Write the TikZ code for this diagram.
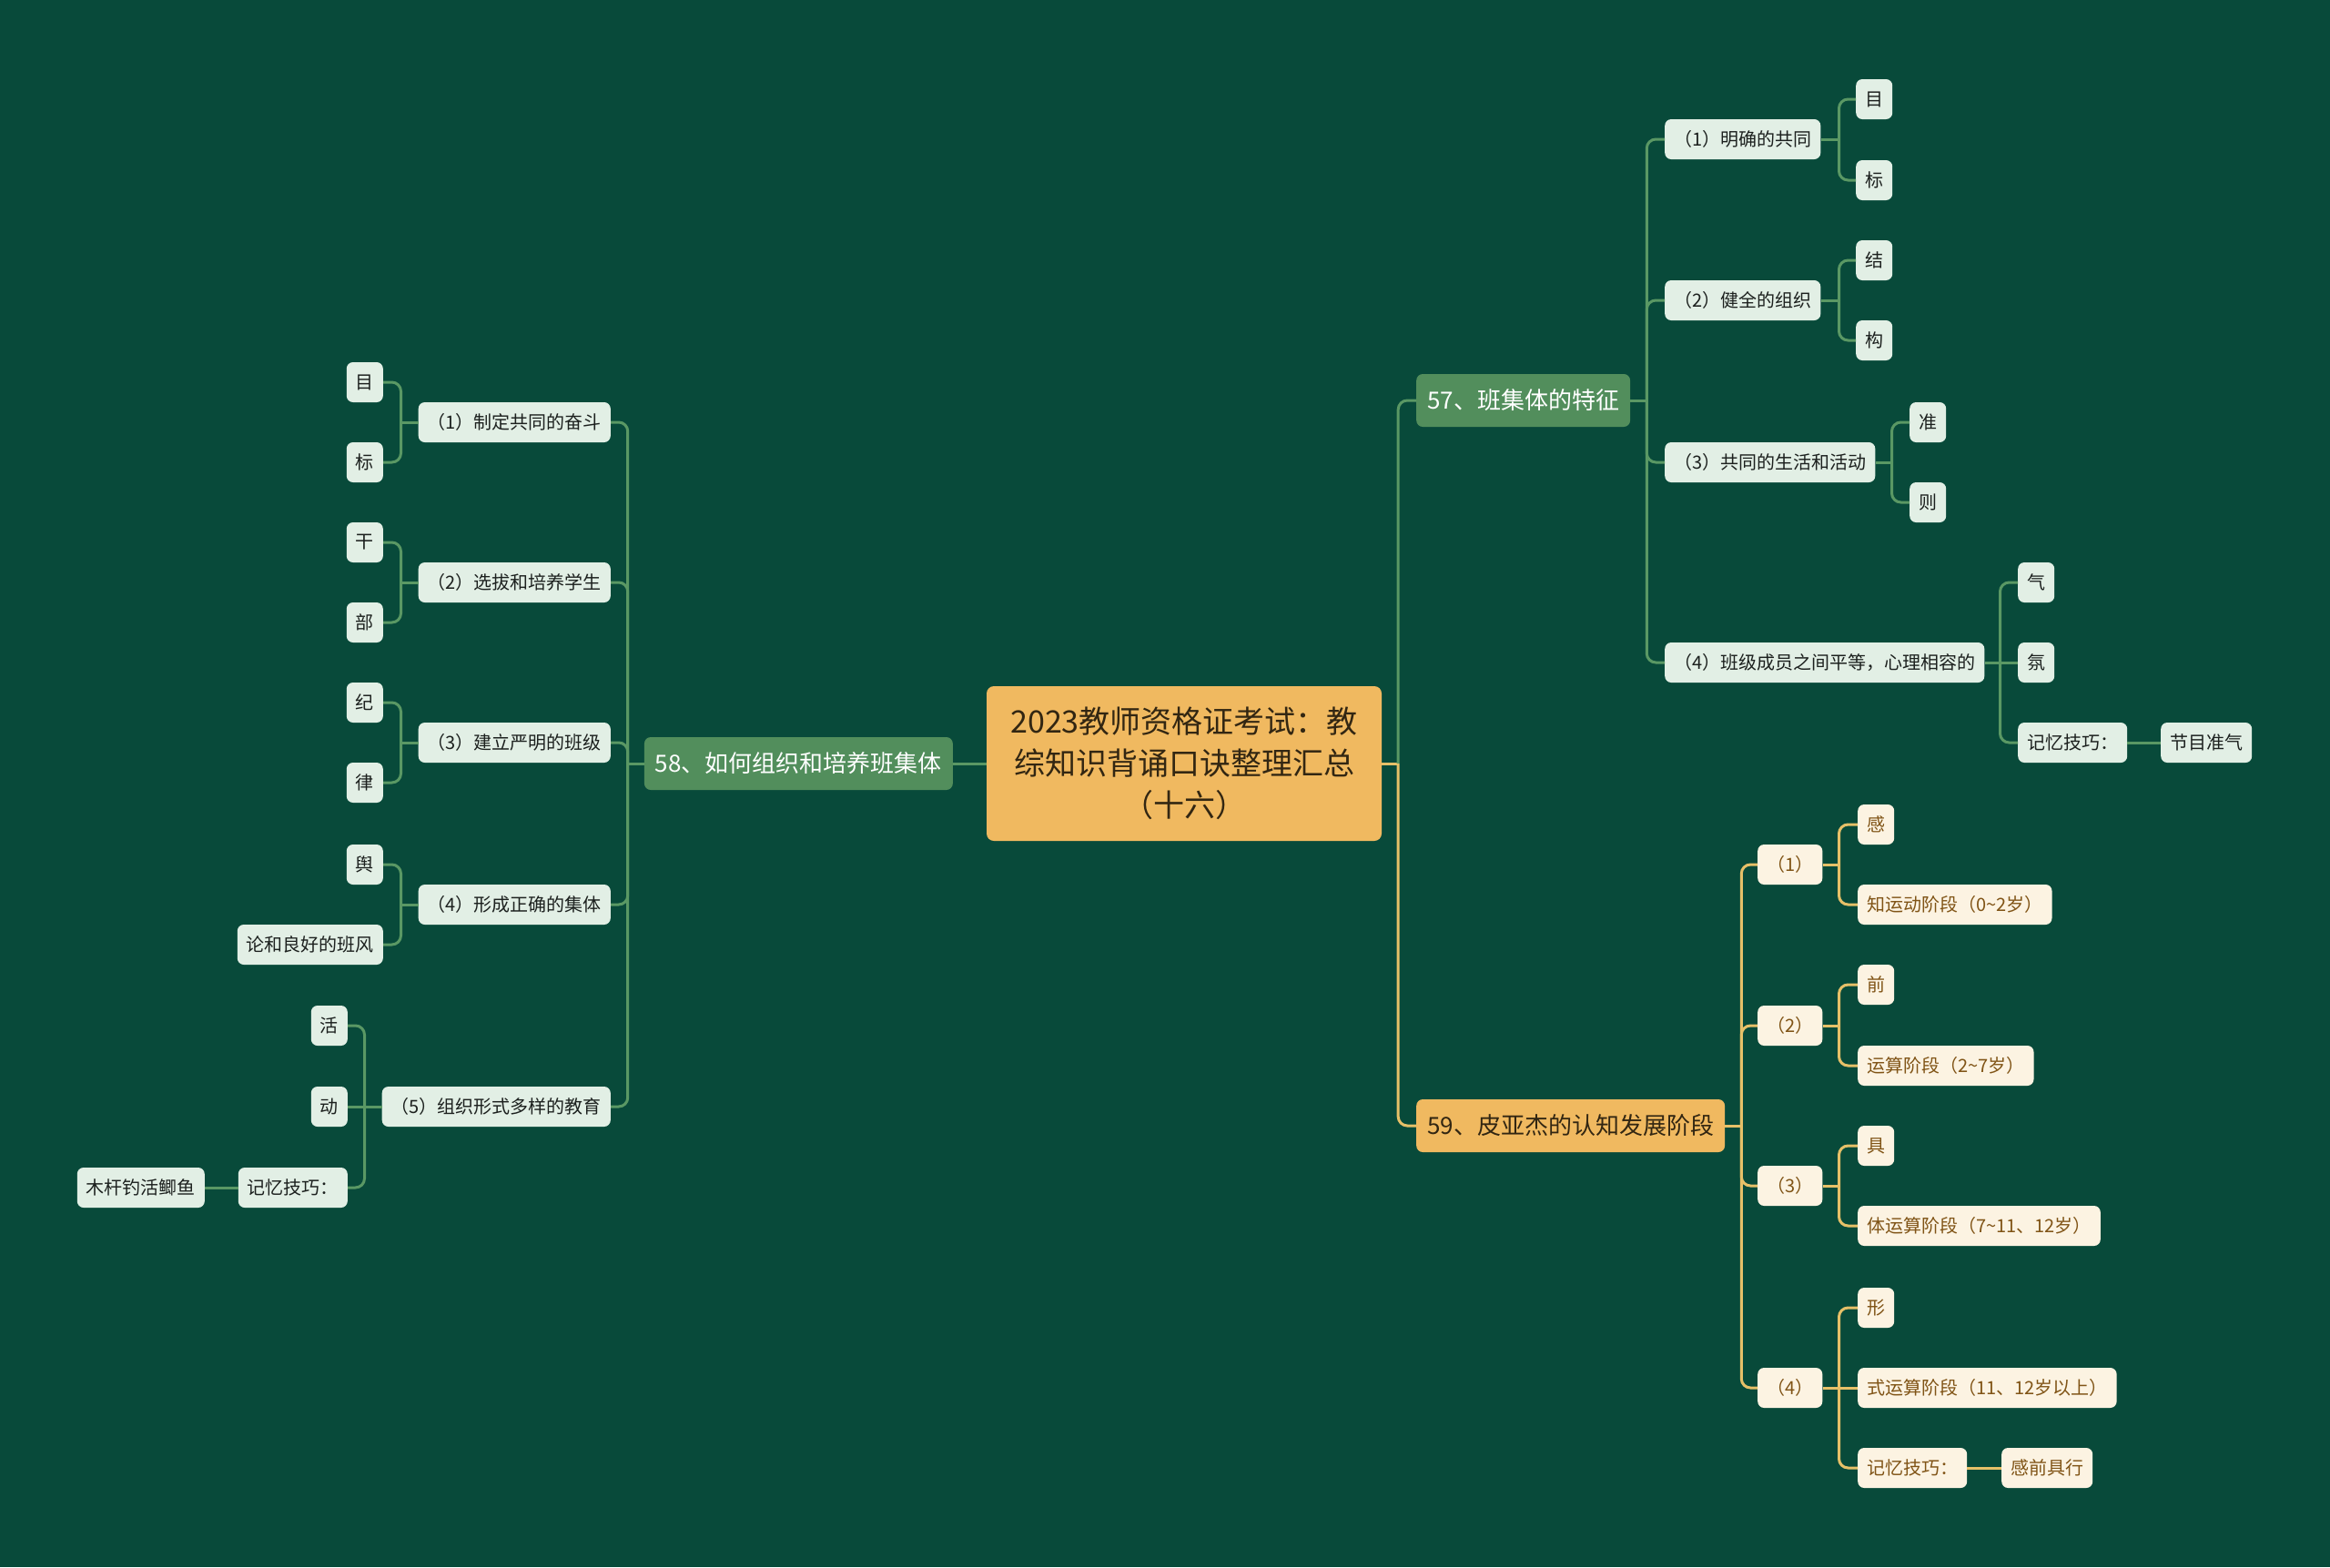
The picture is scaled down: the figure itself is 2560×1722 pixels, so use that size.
\documentclass[tikz,border=0pt]{standalone}
\usepackage{fontspec}
\setmainfont{Noto Sans CJK SC}
\definecolor{bgc}{RGB}{8,74,58}
\definecolor{rootc}{RGB}{240,185,96}
\definecolor{roottxt}{RGB}{50,38,18}
\definecolor{lgreen}{RGB}{82,142,92}
\definecolor{mint}{RGB}{226,239,229}
\definecolor{gline}{RGB}{90,152,100}
\definecolor{yline}{RGB}{230,192,104}
\definecolor{cream}{RGB}{252,243,226}
\definecolor{brown}{RGB}{128,84,22}
\definecolor{darktxt}{RGB}{28,32,30}
\tikzset{
  rootbox/.style={fill=rootc, text=roottxt, rounded corners=8, align=center,
    minimum width=434, minimum height=170, inner sep=0,
    font=\fontsize{34}{46}\selectfont},
  lonegreen/.style={fill=lgreen, text=white, rounded corners=7, minimum height=58,
    inner xsep=12, inner ysep=0, font=\fontsize{26}{30}\selectfont},
  loneyellow/.style={fill=rootc, text=roottxt, rounded corners=7, minimum height=58,
    inner xsep=12, inner ysep=0, font=\fontsize{26}{30}\selectfont},
  gbox/.style={fill=mint, text=darktxt, rounded corners=7, minimum height=44,
    inner xsep=10, inner ysep=0, font=\fontsize{20}{24}\selectfont},
  ybox/.style={fill=cream, text=brown, rounded corners=7, minimum height=44,
    inner xsep=10, inner ysep=0, font=\fontsize{20}{24}\selectfont},
  gl/.style={draw=gline, line width=3},
  yl/.style={draw=yline, line width=3},
  rc/.style={rounded corners=10},
}
\begin{document}
\begin{tikzpicture}[x=1pt,y=-1pt]
\fill[bgc] (0,0) rectangle (2560,1722);
\useasboundingbox (0,0) rectangle (2560,1722);

% root
\node[rootbox] (root) at (1301,839) {2023教师资格证考试：教\\综知识背诵口诀整理汇总\\（十六）};

% ---------- right: 57 ----------
\node[lonegreen, anchor=west] (n57) at (1556,440) {57、班集体的特征};
\node[gbox, anchor=west] (a1) at (1829,153) {（1）明确的共同};
\node[gbox, anchor=west] (a2) at (1829,330) {（2）健全的组织};
\node[gbox, anchor=west] (a3) at (1829,508) {（3）共同的生活和活动};
\node[gbox, anchor=west] (a4) at (1829,728) {（4）班级成员之间平等，心理相容的};
\node[gbox, anchor=west] (a1a) at (2039,109) {目};
\node[gbox, anchor=west] (a1b) at (2039,198) {标};
\node[gbox, anchor=west] (a2a) at (2039,286) {结};
\node[gbox, anchor=west] (a2b) at (2039,374) {构};
\node[gbox, anchor=west] (a3a) at (2098,464) {准};
\node[gbox, anchor=west] (a3b) at (2098,552) {则};
\node[gbox, anchor=west] (a4a) at (2217,640) {气};
\node[gbox, anchor=west] (a4b) at (2217,728) {氛};
\node[gbox, anchor=west] (a4c) at (2217,816) {记忆技巧：};
\node[gbox, anchor=west] (a4d) at (2374,816) {节目准气};

% ---------- right: 59 ----------
\node[loneyellow, anchor=west] (n59) at (1556,1237) {59、皮亚杰的认知发展阶段};
\node[ybox, anchor=west] (c1) at (1931,950) {（1）};
\node[ybox, anchor=west] (c2) at (1931,1127) {（2）};
\node[ybox, anchor=west] (c3) at (1931,1303) {（3）};
\node[ybox, anchor=west] (c4) at (1931,1525) {（4）};
\node[ybox, anchor=west] (c1a) at (2041,906) {感};
\node[ybox, anchor=west] (c1b) at (2041,994) {知运动阶段（0\textasciitilde 2岁）};
\node[ybox, anchor=west] (c2a) at (2041,1082) {前};
\node[ybox, anchor=west] (c2b) at (2041,1171) {运算阶段（2\textasciitilde 7岁）};
\node[ybox, anchor=west] (c3a) at (2041,1259) {具};
\node[ybox, anchor=west] (c3b) at (2041,1347) {体运算阶段（7\textasciitilde 11、12岁）};
\node[ybox, anchor=west] (c4a) at (2041,1437) {形};
\node[ybox, anchor=west] (c4b) at (2041,1525) {式运算阶段（11、12岁以上）};
\node[ybox, anchor=west] (c4c) at (2041,1613) {记忆技巧：};
\node[ybox, anchor=west] (c4d) at (2199,1613) {感前具行};

% ---------- left: 58 ----------
\node[lonegreen, anchor=east] (n58) at (1047,839) {58、如何组织和培养班集体};
\node[gbox, anchor=east] (b1) at (671,464) {（1）制定共同的奋斗};
\node[gbox, anchor=east] (b2) at (671,640) {（2）选拔和培养学生};
\node[gbox, anchor=east] (b3) at (671,816) {（3）建立严明的班级};
\node[gbox, anchor=east] (b4) at (671,994) {（4）形成正确的集体};
\node[gbox, anchor=east] (b5) at (671,1216) {（5）组织形式多样的教育};
\node[gbox, anchor=east] (b1a) at (421,420) {目};
\node[gbox, anchor=east] (b1b) at (421,508) {标};
\node[gbox, anchor=east] (b2a) at (421,596) {干};
\node[gbox, anchor=east] (b2b) at (421,684) {部};
\node[gbox, anchor=east] (b3a) at (421,772) {纪};
\node[gbox, anchor=east] (b3b) at (421,860) {律};
\node[gbox, anchor=east] (b4a) at (421,950) {舆};
\node[gbox, anchor=east] (b4b) at (421,1038) {论和良好的班风};
\node[gbox, anchor=east] (b5a) at (382,1127) {活};
\node[gbox, anchor=east] (b5b) at (382,1216) {动};
\node[gbox, anchor=east] (b5c) at (382,1305) {记忆技巧：};
\node[gbox, anchor=east] (b5d) at (225,1305) {木杆钓活鲫鱼};

% ---------- connectors ----------
% root
\draw[gl] (root.west) -- (n58.east);
\draw[yl] (root.east) -- ([xshift=18]root.east);
\draw[gl, rc] ([xshift=18]root.east) |- (n57.west);
\draw[yl, rc] ([xshift=18]root.east) |- (n59.west);

% 57
\draw[gl] (n57.east) -- ([xshift=18]n57.east);
\foreach \c in {a1,a2,a3,a4} \draw[gl, rc] ([xshift=18]n57.east) |- (\c.west);
\draw[gl] (a1.east) -- ([xshift=20]a1.east);
\foreach \c in {a1a,a1b} \draw[gl, rc] ([xshift=20]a1.east) |- (\c.west);
\draw[gl] (a2.east) -- ([xshift=20]a2.east);
\foreach \c in {a2a,a2b} \draw[gl, rc] ([xshift=20]a2.east) |- (\c.west);
\draw[gl] (a3.east) -- ([xshift=18]a3.east);
\foreach \c in {a3a,a3b} \draw[gl, rc] ([xshift=18]a3.east) |- (\c.west);
\draw[gl] (a4.east) -- (a4b.west);
\foreach \c in {a4a,a4c} \draw[gl, rc] ([xshift=17]a4.east) |- (\c.west);
\draw[gl] (a4c.east) -- (a4d.west);

% 59
\draw[yl] (n59.east) -- ([xshift=18]n59.east);
\foreach \c in {c1,c2,c3,c4} \draw[yl, rc] ([xshift=18]n59.east) |- (\c.west);
\draw[yl] (c1.east) -- ([xshift=18]c1.east);
\foreach \c in {c1a,c1b} \draw[yl, rc] ([xshift=18]c1.east) |- (\c.west);
\draw[yl] (c2.east) -- ([xshift=18]c2.east);
\foreach \c in {c2a,c2b} \draw[yl, rc] ([xshift=18]c2.east) |- (\c.west);
\draw[yl] (c3.east) -- ([xshift=18]c3.east);
\foreach \c in {c3a,c3b} \draw[yl, rc] ([xshift=18]c3.east) |- (\c.west);
\draw[yl] (c4.east) -- (c4b.west);
\foreach \c in {c4a,c4c} \draw[yl, rc] ([xshift=18]c4.east) |- (\c.west);
\draw[yl] (c4c.east) -- (c4d.west);

% 58
\draw[gl] (n58.west) -- ([xshift=-18]n58.west);
\foreach \c in {b1,b2,b3,b4,b5} \draw[gl, rc] ([xshift=-18]n58.west) |- (\c.east);
\draw[gl] (b1.west) -- ([xshift=-19]b1.west);
\foreach \c in {b1a,b1b} \draw[gl, rc] ([xshift=-19]b1.west) |- (\c.east);
\draw[gl] (b2.west) -- ([xshift=-19]b2.west);
\foreach \c in {b2a,b2b} \draw[gl, rc] ([xshift=-19]b2.west) |- (\c.east);
\draw[gl] (b3.west) -- ([xshift=-19]b3.west);
\foreach \c in {b3a,b3b} \draw[gl, rc] ([xshift=-19]b3.west) |- (\c.east);
\draw[gl] (b4.west) -- ([xshift=-19]b4.west);
\foreach \c in {b4a,b4b} \draw[gl, rc] ([xshift=-19]b4.west) |- (\c.east);
\draw[gl] (b5.west) -- (b5b.east);
\foreach \c in {b5a,b5c} \draw[gl, rc] ([xshift=-19]b5.west) |- (\c.east);
\draw[gl] (b5c.west) -- (b5d.east);
\end{tikzpicture}
\end{document}
